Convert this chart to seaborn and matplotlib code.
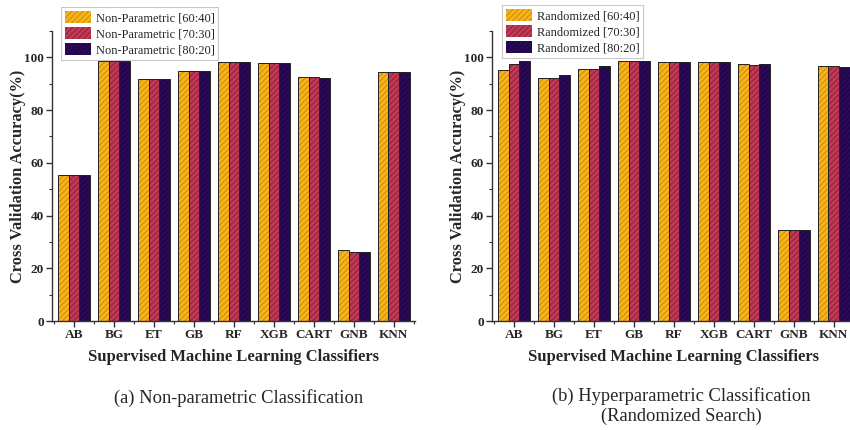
import numpy as np
import pandas as pd
import seaborn as sns
import matplotlib
matplotlib.use("Agg")
import matplotlib.pyplot as plt
from matplotlib.patches import Patch, Rectangle
from matplotlib.ticker import MultipleLocator

classifiers = ["AB", "BG", "ET", "GB", "RF", "XGB", "CART", "GNB", "KNN"]

np_6040 = [55.2, 98.6, 91.9, 94.7, 98.4, 98.0, 92.4, 27.0, 94.6]
np_7030 = [55.2, 98.6, 91.7, 94.7, 98.4, 98.0, 92.4, 26.0, 94.6]
np_8020 = [55.2, 98.6, 91.8, 94.7, 98.4, 98.0, 92.1, 26.0, 94.3]

rs_6040 = [95.1, 92.2, 95.5, 98.7, 98.4, 98.4, 97.4, 34.5, 96.6]
rs_7030 = [97.5, 92.2, 95.5, 98.7, 98.4, 98.4, 97.2, 34.5, 96.7]
rs_8020 = [98.6, 93.2, 96.6, 98.7, 98.4, 98.4, 97.4, 34.5, 96.5]

np_labels = ["Non-Parametric [60:40]", "Non-Parametric [70:30]", "Non-Parametric [80:20]"]
rs_labels = ["Randomized [60:40]", "Randomized [70:30]", "Randomized [80:20]"]

xlabel = "Supervised Machine Learning Classifiers"
ylabel = "Cross Validation Accuracy(%)"
caption_a = "(a) Non-parametric Classification"
caption_b = "(b) Hyperparametric Classification\n(Randomized Search)"

fills = ["#F6B51E", "#C13A55", "#2A0A58"]
hatch_cols = ["#D48600", "#8E1F3A", "#1A0540"]

sns.set_theme(style="ticks")
plt.rcParams["font.family"] = ["Liberation Serif", "DejaVu Serif"]
plt.rcParams["hatch.linewidth"] = 0.7

W, H = 850, 430
fig = plt.figure(figsize=(W / 100, H / 100), dpi=100)


def fx(px):
    return px / W


def fy(py):
    return 1 - py / H


ax_top, ax_bot = 31, 321
ax_h = ax_bot - ax_top
ax_w = 363


def make_panel(left_px, series, labels, leg_anchor):
    ax = fig.add_axes([fx(left_px), fy(ax_bot), ax_w / W, ax_h / H])
    df = pd.DataFrame({
        "clf": classifiers * 3,
        "acc": list(series[0]) + list(series[1]) + list(series[2]),
        "grp": sum([[l] * len(classifiers) for l in labels], []),
    })
    sns.barplot(data=df, x="clf", y="acc", hue="grp", hue_order=labels,
                order=classifiers, palette=fills, width=0.8, gap=0,
                legend=False, ax=ax, saturation=1)
    n = len(classifiers)
    for i, p in enumerate(ax.patches[:3 * n]):
        k = i // n
        p.set_hatch("//////")
        p.set_edgecolor(hatch_cols[k])
        p.set_linewidth(0)
        ol = Rectangle(p.get_xy(), p.get_width(), p.get_height(), fill=False,
                       edgecolor="#222222", linewidth=0.7, zorder=p.get_zorder() + 0.1)
        ax.add_patch(ol)
    ax.set_xlim(-0.55, n - 1 + 0.53)
    ax.set_ylim(0, 110)
    ax.yaxis.set_major_locator(MultipleLocator(20))
    ax.yaxis.set_minor_locator(MultipleLocator(10))
    ax.xaxis.set_minor_locator(MultipleLocator(1, offset=0.5))
    sns.despine(ax=ax)
    for s in ["left", "bottom"]:
        ax.spines[s].set_color("#333333")
        ax.spines[s].set_linewidth(1.0)
    ax.tick_params(axis="both", which="major", length=4, width=1, color="#333333",
                   labelsize=9.5, pad=2)
    ax.tick_params(axis="both", which="minor", length=2.5, width=0.8, color="#333333")
    for t in ax.get_xticklabels() + ax.get_yticklabels():
        t.set_fontweight("bold")
    ax.set_xlabel(xlabel, fontsize=12, fontweight="bold")
    ax.set_ylabel(ylabel, fontsize=11.8, fontweight="bold")
    ax.xaxis.set_label_coords(0.5, -(357 - ax_bot) / ax_h)
    ax.xaxis.label.set_va("center")
    ax.yaxis.set_label_coords(-34 / ax_w, 0.5)
    ax.yaxis.label.set_va("center")
    handles = [Patch(facecolor=fills[k], edgecolor=hatch_cols[k], hatch="//////",
                     linewidth=0) for k in range(3)]
    leg = ax.legend(handles, labels, loc="upper left", bbox_to_anchor=leg_anchor,
                    bbox_transform=fig.transFigure, fontsize=8.9, frameon=True,
                    fancybox=False, edgecolor="#BBBBBB", handlelength=2.1,
                    handleheight=1.15, labelspacing=0.22, handletextpad=0.4,
                    borderpad=0.3, borderaxespad=0)
    leg.get_frame().set_linewidth(0.8)
    return ax


make_panel(52, [np_6040, np_7030, np_8020], np_labels, (fx(61), fy(7)))
make_panel(492, [rs_6040, rs_7030, rs_8020], rs_labels, (fx(502), fy(5)))

fig.text(fx(239), fy(398), caption_a, ha="center", va="center", fontsize=13.3)
fig.text(fx(681), fy(406), caption_b, ha="center", va="center", fontsize=13.3,
         linespacing=1.25)

fig.savefig("out.png", dpi=100)
